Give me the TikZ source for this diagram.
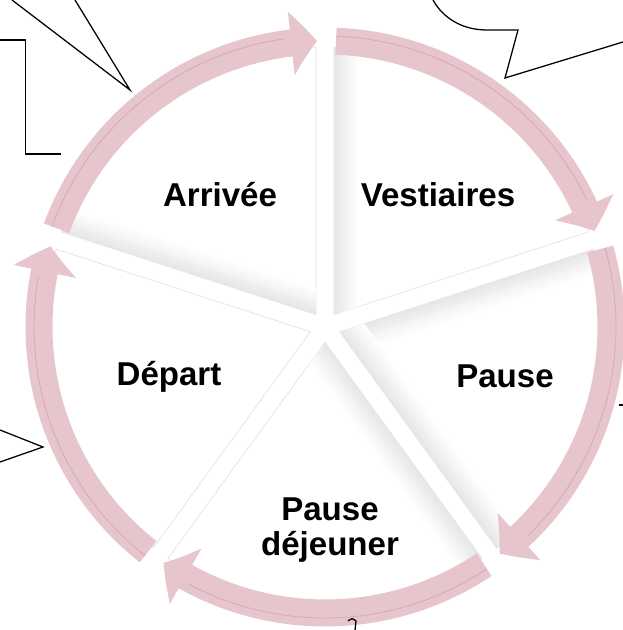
\documentclass[tikz,border=0pt]{standalone}
\usepackage{fontspec}
\setmainfont{Liberation Sans}
\usetikzlibrary{arrows.meta,bending,calc}
\definecolor{ringpink}{RGB}{231,197,205}
\definecolor{ringdark}{RGB}{214,170,183}
\tikzset{
  cyclearrow/.style={line width=0.675cm, ringpink, -{Triangle[length=0.65cm,width=1.55cm,bend]}},
  ringline/.style={line width=0.6pt, ringdark},
  wedgebox/.style={fill=white, draw=gray!22, line width=0.5pt},
  steplabel/.style={font=\fontsize{23.5}{25}\selectfont\bfseries, align=center},
  callout/.style={draw=black, line width=0.9pt}
}
% one slice of the cycle, #1 = its left (counter-clockwise) edge
\newcommand{\wedgepath}[1]{($(c)+(#1-36:15.3)$) -- ($(c)+(#1-1.84:280)$) arc[start angle=#1-1.84, end angle=#1-70.16, radius=280] -- cycle}

\begin{document}
\begin{tikzpicture}[x=0.025cm, y=0.025cm]
\useasboundingbox (0,0) rectangle (623,630);
\coordinate (c) at (325,303);

% slices
\foreach \a in {162,90,18,-54,-126}
  \draw[wedgebox] \wedgepath{\a};

% grey bevel along some edges
\foreach \w/\e/\s in {162/162/-90, 90/90/-90, 18/18/-90, 18/-54/90, -54/-54/-90}{
  \begin{scope}
    \clip \wedgepath{\w};
    \foreach \k in {0,...,9}{
      \pgfmathtruncatemacro\shd{19-2*\k}
      \draw[gray!\shd, line width=0.07cm] ($(c)+(\e+\s:10+2.5*\k)$) -- ++(\e:300);
    }
  \end{scope}
}

% ring of arrows
\foreach \a in {162,90,18,-54,-126}{
  \pgfmathsetmacro\sa{\a-2.2}
  \pgfmathsetmacro\ea{\a-70.4}
  \pgfmathsetmacro\la{\a-64}
  \draw[cyclearrow] ($(c)+(\sa:286)$) arc[start angle=\sa, end angle=\ea, radius=286];
  \draw[ringline] ($(c)+(\sa:291)$) arc[start angle=\sa, end angle=\la, radius=291];
}

% labels
\node[steplabel] (arrivee) at (220,435) {Arrivée};
\node[steplabel] (vestiaires) at (438,435) {Vestiaires};
\node[steplabel] (pause) at (505,254) {Pause};
\node[steplabel] (dejeuner) at (330,100) {Pause\\déjeuner};
\node[steplabel] (depart) at (169,253) {Départ};

% callouts cut by the frame
\draw[callout] (0,590) -- (25.7,590) -- (25.7,476) -- (61,476);
\draw[callout] (12,630) -- (130,540) -- (75,630);
\draw[callout] (433,630) .. controls (443,612) and (462,600) .. (487,600) -- (518,600) -- (505,552) -- (623,588);
\draw[callout] (0,200) -- (43,183) -- (0,168);
\draw[callout] (619,225) -- (623,225);
\draw[callout] (348,9) .. controls (352,12) .. (356,9) -- (355,0);
\end{tikzpicture}
\end{document}
